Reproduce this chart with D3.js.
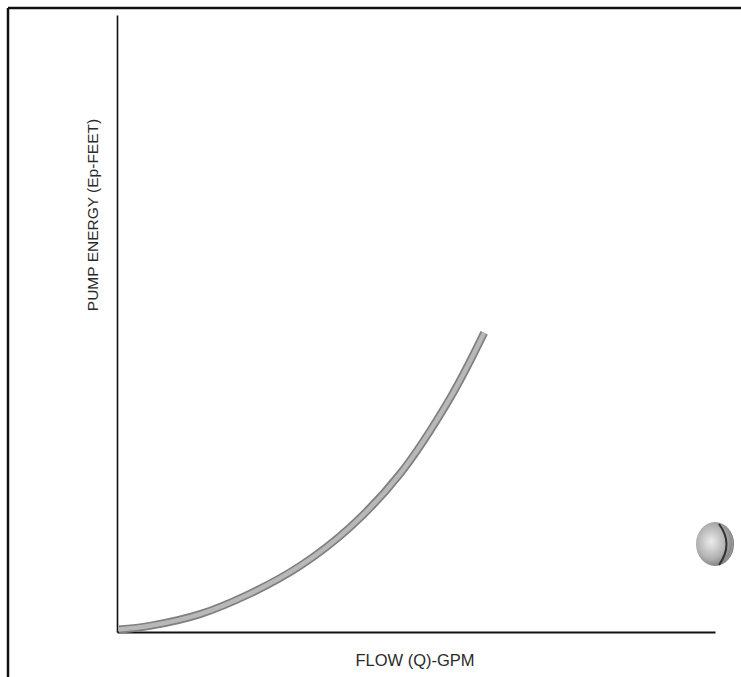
<!DOCTYPE html>
<html>
<head>
<meta charset="utf-8">
<script src="https://cdn.jsdelivr.net/npm/d3@7"></script>
<style>
  html, body { margin: 0; padding: 0; background: #fff; }
  svg { display: block; }
</style>
</head>
<body>
<svg id="chart" width="741" height="677"></svg>
<script>
// Data (unitless: 0..100 along each axis)
const flow   = [0.3, 5.5, 13.9, 22.2, 30.6, 39.0, 47.3, 55.7, 61.4];
const energy = [0.4, 1.0, 2.9, 6.2, 10.7, 17.0, 25.6, 37.9, 48.5];
const xTitle = "FLOW (Q)-GPM";
const yTitle = "PUMP ENERGY (Ep-FEET)";
const xDomain = [0, 100];
const yDomain = [0, 100];

const svg = d3.select("#chart");
const W = 741, H = 677;
const m = { left: 117, right: 26, top: 15, bottom: 45 };

const x = d3.scaleLinear().domain(xDomain).range([m.left, W - m.right]);
const y = d3.scaleLinear().domain(yDomain).range([H - m.bottom, m.top]);

// page frame (scanned border)
svg.append("line").attr("x1", 8).attr("y1", 8).attr("x2", W).attr("y2", 8)
  .attr("stroke", "#111").attr("stroke-width", 2.5);
svg.append("line").attr("x1", 8).attr("y1", 8).attr("x2", 8).attr("y2", H)
  .attr("stroke", "#111").attr("stroke-width", 2.5);

// axes
const xAxis = svg.append("g").attr("transform", `translate(0,${y(0)})`)
  .call(d3.axisBottom(x).tickValues([]).tickSizeOuter(0));
xAxis.select(".domain").attr("stroke", "#111").attr("stroke-width", 2);
const yAxis = svg.append("g").attr("transform", `translate(${x(0)},0)`)
  .call(d3.axisLeft(y).tickValues([]).tickSizeOuter(0));
yAxis.select(".domain").attr("stroke", "#111").attr("stroke-width", 1.6);

// curve
const pts = flow.map((f, i) => [f, energy[i]]);
const line = d3.line().x(d => x(d[0])).y(d => y(d[1])).curve(d3.curveCatmullRom.alpha(0.5));
svg.append("path").datum(pts).attr("d", line)
  .attr("fill", "none").attr("stroke", "#808080").attr("stroke-width", 8)
  .attr("stroke-linecap", "butt");
svg.append("path").datum(pts).attr("d", line)
  .attr("fill", "none").attr("stroke", "#b8b8b8").attr("stroke-width", 4.5)
  .attr("stroke-linecap", "butt");

// titles
svg.append("text").attr("x", 415).attr("y", 666)
  .attr("text-anchor", "middle")
  .attr("font-family", "Liberation Sans, Arial, sans-serif")
  .attr("font-size", 16.5).attr("fill", "#2a2a2a").text(xTitle);
svg.append("text")
  .attr("transform", `translate(98,215) rotate(-90)`)
  .attr("text-anchor", "middle")
  .attr("font-family", "Liberation Sans, Arial, sans-serif")
  .attr("font-size", 15.5).attr("fill", "#2a2a2a").text(yTitle);

// decorative ball (scan artefact)
const defs = svg.append("defs");
const grad = defs.append("radialGradient").attr("id", "ball")
  .attr("cx", "40%").attr("cy", "45%").attr("r", "60%");
grad.append("stop").attr("offset", "0%").attr("stop-color", "#ececec");
grad.append("stop").attr("offset", "65%").attr("stop-color", "#b0b0b0");
grad.append("stop").attr("offset", "100%").attr("stop-color", "#7a7a7a");
svg.append("ellipse").attr("cx", 715).attr("cy", 544).attr("rx", 19).attr("ry", 22)
  .attr("fill", "url(#ball)");
svg.append("path").attr("d", "M719,524 Q734,544 719,565")
  .attr("fill", "none").attr("stroke", "#333").attr("stroke-width", 2);
svg.append("path").attr("d", "M726,527 Q739,544 726,561")
  .attr("fill", "none").attr("stroke", "#999").attr("stroke-width", 1.2);
</script>
</body>
</html>
